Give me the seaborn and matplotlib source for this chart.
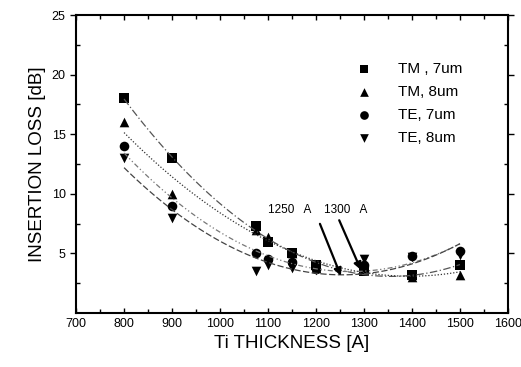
import matplotlib
matplotlib.use("Agg")
import matplotlib.pyplot as plt
import seaborn as sns
import pandas as pd

# data
thickness = [800, 900, 1075, 1100, 1150, 1200, 1300, 1400, 1500]
tm_7um = [18.0, 13.0, 7.3, 6.0, 5.0, 4.0, 3.5, 3.2, 4.0]
tm_8um = [16.0, 10.0, 7.0, 6.4, 5.0, 3.8, 4.3, 3.0, 3.2]
te_7um = [14.0, 9.0, 5.0, 4.5, 4.3, 3.7, 4.0, 4.8, 5.2]
te_8um = [13.0, 8.0, 3.5, 4.0, 3.8, 3.6, 4.5, 4.7, 4.9]
labels = ["TM , 7um", "TM, 8um", "TE, 7um", "TE, 8um"]

sns.set_style("ticks")
plt.rcParams['font.family'] = ['Liberation Sans', 'DejaVu Sans']
plt.rcParams['text.color'] = 'black'
plt.rcParams['axes.labelcolor'] = 'black'
plt.rcParams['xtick.color'] = 'black'
plt.rcParams['ytick.color'] = 'black'

fig = plt.figure(figsize=(5.21, 3.67), dpi=100)
ax = fig.add_axes([0.146, 0.147, 0.829, 0.812])

series = [tm_7um, tm_8um, te_7um, te_8um]
markers = ["s", "^", "o", "v"]
styles = [(0, (6, 2, 1, 2)), (0, (1, 1.5)), (0, (4, 2, 1, 2, 1, 2)), (0, (5, 2))]
greys = ["#555555", "#333333", "#777777", "#444444"]

for vals, lab, mk, ls, gc in zip(series, labels, markers, styles, greys):
    df = pd.DataFrame({"x": thickness, "y": vals})
    sns.regplot(data=df, x="x", y="y", order=2, ci=None, ax=ax, label=lab,
                marker=mk, color="black",
                scatter_kws={"s": 48, "color": "black", "linewidths": 0, "alpha": 1},
                line_kws={"color": gc, "lw": 0.9, "linestyle": ls})

# arrows marking 1250 A and 1300 A
ax.annotate("", xy=(1254, 2.9), xytext=(1206, 7.7),
            arrowprops=dict(arrowstyle="-|>", color="black", lw=1.6, mutation_scale=11))
ax.annotate("", xy=(1296, 3.4), xytext=(1246, 8.0),
            arrowprops=dict(arrowstyle="-|>", color="black", lw=1.6, mutation_scale=11))
ax.text(1146, 8.1, "1250   A", ha="center", va="bottom", fontsize=8.5)
ax.text(1262, 8.1, "1300   A", ha="center", va="bottom", fontsize=8.5)

ax.set_xlim(700, 1600)
ax.set_ylim(0, 25)
ax.set_xticks(range(700, 1601, 100))
ax.set_xticks(range(750, 1600, 100), minor=True)
ax.set_yticks([5, 10, 15, 20, 25])
ax.set_yticks([2.5, 7.5, 12.5, 17.5, 22.5], minor=True)
ax.tick_params(axis="both", which="both", direction="in", top=True, right=True,
               labelsize=9, width=1)
ax.tick_params(axis="y", which="major", direction="out", length=4)
ax.tick_params(which="minor", length=3)
for s in ax.spines.values():
    s.set_linewidth(1.5)
    s.set_color("black")

ax.set_xlabel("Ti THICKNESS [A]", fontsize=13.5)
ax.set_ylabel("INSERTION LOSS [dB]", fontsize=13.5)

ax.legend(loc="upper left", bbox_to_anchor=(0.6, 0.89), frameon=False,
          fontsize=11, handletextpad=1.2, labelspacing=0.6, markerscale=0.9)

fig.savefig("out.png", dpi=100)
